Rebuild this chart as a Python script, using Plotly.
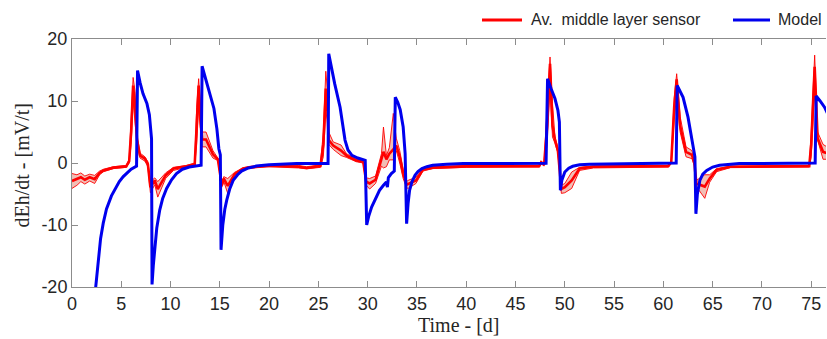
import plotly.graph_objects as go

# ---- Averaged middle-layer sensor (mean + band) ----
t_red = [0.0, 0.5, 0.9, 1.3, 1.8, 2.3, 2.8, 3.2, 4.2, 5.5, 5.8, 6.0, 6.2, 6.4, 6.6, 6.9, 7.4, 7.7,
         7.95, 8.4, 8.7, 9.5, 10.3, 11.6, 12.45, 12.65, 12.85, 13.0, 13.2, 13.6, 14.3, 14.8, 15.2,
         15.4, 15.8, 16.5, 17.35, 18.0, 20.0, 23.0, 23.8, 25.2, 25.5, 25.75, 25.9, 26.05, 26.5,
         27.3, 27.85, 28.85, 29.55, 29.85, 30.2, 30.8, 31.4, 31.6, 31.9, 32.2, 32.6, 32.9, 33.25,
         33.6, 33.95, 34.1, 34.9, 35.6, 36.6, 40.0, 47.4, 47.6, 47.9, 48.2, 48.5, 48.75, 49.0,
         49.3, 49.65, 50.0, 50.7, 51.5, 52.9, 60.5, 60.8, 61.1, 61.35, 61.7, 62.3, 62.9, 63.15,
         63.35, 64.2, 64.7, 65.4, 66.8, 74.8, 75.0, 75.35, 75.65, 76.2, 76.6]
red_mean = [-2.9, -2.6, -2.3, -2.7, -2.3, -2.6, -1.6, -1.2, -0.75, -0.55, 0.3, 5.0, 12.5, 9.0, 3.7,
            1.2, 0.7, -0.2, -3.9, -2.8, -4.2, -2.0, -0.9, -0.53, -0.2, 6.0, 12.5, 8.0, 3.8, 3.8,
            1.4, 0.6, -3.6, -2.5, -3.7, -1.8, -0.9, -0.7, -0.45, -0.6, -0.8, -0.5, 3.0, 12.0, 9.0,
            3.7, 2.8, 2.0, 1.2, 0.4, 0.2, -3.0, -3.3, -2.7, 0.5, 1.8, 0.6, 1.5, 2.2, 2.8, 1.0,
            -1.7, -3.5, -3.4, -2.8, -1.1, -0.75, -0.55, -0.5, 0.1, -0.3, 6.0, 16.0, 6.0, 3.7,
            2.0, -4.2, -3.9, -2.8, -0.9, -0.6, -0.5, 0.16, 9.0, 13.5, 6.0, 1.8, 1.3, -0.1,
            -3.3, -3.8, -2.5, -1.1, -0.6, -0.5, 3.0, 15.5, 4.0, 1.8, 1.6]
red_low = [-4.1, -3.6, -3.0, -3.4, -2.9, -3.3, -1.9, -1.4, -0.9, -0.7, 0.0, 3.0, 10.0, 6.5, 3.0,
           0.8, 0.3, -0.6, -4.8, -3.5, -5.5, -2.5, -1.2, -0.7, -0.4, 3.0, 9.0, 5.8, 2.6, 2.6,
           0.8, 0.4, -3.9, -3.0, -4.9, -2.3, -1.1, -0.85, -0.6, -0.8, -0.95, -0.7, 1.0, 8.2, 7.0,
           3.0, 2.2, 1.2, 0.9, 0.2, 0.0, -3.6, -4.2, -3.3, -0.5, -0.8, -0.6, 0.5, 0.5, 2.0, 0.0,
           -2.5, -4.0, -4.1, -3.3, -1.3, -0.9, -0.7, -0.65, -0.1, -0.5, 3.0, 12.0, 4.2, 3.2,
           1.6, -4.9, -4.8, -4.1, -1.2, -0.8, -0.65, 0.0, 7.0, 11.0, 5.0, 1.0, 0.7, -0.4,
           -3.8, -5.7, -3.1, -1.4, -0.75, -0.65, 1.0, 11.7, 3.7, 0.6, 0.6]
red_high = [-1.7, -1.9, -1.6, -2.1, -1.8, -2.0, -1.3, -1.0, -0.6, -0.4, 0.6, 7.0, 13.8, 11.5, 4.5,
            1.6, 1.0, 0.2, -3.0, -2.4, -3.0, -1.6, -0.7, -0.4, 0.0, 9.0, 13.6, 10.0, 5.0, 5.0,
            2.0, 0.8, -3.3, -2.2, -2.5, -1.5, -0.8, -0.55, -0.3, -0.4, -0.6, -0.3, 5.0, 14.8, 12.0,
            5.0, 3.4, 2.9, 1.5, 0.6, 0.4, -2.4, -2.5, -2.1, 1.5, 5.8, 1.2, 2.5, 8.0, 4.0, 2.0,
            -1.0, -3.0, -2.8, -2.3, -0.9, -0.6, -0.4, -0.35, 0.3, -0.1, 9.0, 17.1, 9.6, 4.3,
            2.5, -3.6, -3.3, -1.45, -0.7, -0.45, -0.35, 0.3, 10.5, 14.4, 7.5, 2.6, 2.0, 0.2,
            -2.8, -1.9, -1.9, -0.9, -0.5, -0.35, 5.0, 17.4, 5.0, 3.0, 2.6]

# ---- Model ----
t_model = [1.9, 2.4, 2.67, 2.9, 3.17, 3.5, 4.0, 4.34, 4.8, 5.2, 5.5, 6.0, 6.55,
           6.65, 6.9, 7.2, 7.6, 7.85, 8.07,
           8.12, 8.25, 8.4, 8.6, 8.9, 9.2, 9.6, 10.1, 10.6, 11.2, 11.9, 12.5, 13.1,
           13.2, 13.5, 13.8, 14.1, 14.4, 14.7, 14.9, 15.05,
           15.12, 15.3, 15.5, 15.7, 16.0, 16.35, 16.8, 17.2, 17.9, 18.7, 20.0, 22.8, 25.98,
           26.05, 26.35, 26.65, 27.2, 27.5, 27.7, 28.0, 28.4, 29.0, 29.75,
           29.9, 30.1, 30.4, 30.8, 31.2, 31.6, 31.9, 32.0, 32.1, 32.4, 32.7,
           32.8, 33.05, 33.3, 33.6, 33.8,
           33.95, 34.1, 34.25, 34.5, 34.8, 35.1, 35.5, 36.0, 36.6, 38.0, 39.7, 48.1,
           48.25, 48.6, 49.0, 49.3, 49.45,
           49.55, 49.7, 50.0, 50.4, 50.8, 51.5, 52.5, 61.3,
           61.4, 61.7, 62.0, 62.5, 62.9, 63.2,
           63.3, 63.45, 63.7, 64.0, 64.4, 65.0, 65.7, 67.7, 75.4,
           75.5, 75.9, 76.35, 76.8]
model = [-28.0, -20.0, -15.2, -12.2, -9.7, -7.4, -5.3, -4.4, -3.0, -2.2, -1.7, -1.0, -0.5,
         14.9, 13.0, 11.2, 9.6, 7.8, 3.9,
         -19.6, -16.5, -13.5, -10.5, -7.6, -5.7, -4.1, -2.7, -1.7, -1.0, -0.64, -0.45, -0.37,
         15.6, 13.9, 12.3, 10.6, 8.8, 5.5, 2.3, 1.3,
         -14.0, -10.0, -7.5, -6.0, -4.2, -2.8, -1.9, -1.3, -0.8, -0.5, -0.3, -0.1, -0.1,
         17.6, 15.0, 12.8, 9.0, 6.0, 3.7, 2.1, 1.24, 0.8, 0.44,
         -10.0, -8.6, -7.1, -5.6, -4.4, -3.6, -3.06, -3.9, -2.35, -1.7, -1.3,
         10.6, 9.8, 8.6, 5.8, 1.5,
         -9.8, -6.5, -4.4, -3.0, -2.0, -1.4, -0.9, -0.6, -0.37, -0.2, -0.1, -0.05,
         13.6, 12.0, 10.4, 8.5, 6.6,
         -4.4, -2.8, -1.45, -0.85, -0.53, -0.3, -0.2, 0.0,
         12.5, 11.5, 10.6, 7.4, 3.7, 1.0,
         -8.2, -5.0, -2.8, -1.8, -1.2, -0.65, -0.37, -0.1, 0.0,
         10.8, 10.0, 9.0, 7.5]

x_ticks = [0, 5, 10, 15, 20, 25, 30, 35, 40, 45, 50, 55, 60, 65, 70, 75]
y_ticks = [-20, -10, 0, 10, 20]
legend_names = ["Av.\u00a0 middle layer sensor", "Model"]

RED = "#ff0000"
BLUE = "#0000ee"

fig = go.Figure()
fig.add_trace(go.Scatter(x=t_red, y=red_low, mode="lines", line=dict(color=RED, width=0.9),
                         showlegend=False, hoverinfo="skip"))
fig.add_trace(go.Scatter(x=t_red, y=red_high, mode="lines", line=dict(color=RED, width=0.9),
                         fill="tonexty", fillcolor="rgba(225,110,90,0.45)",
                         showlegend=False, hoverinfo="skip"))
fig.add_trace(go.Scatter(x=t_red, y=red_mean, mode="lines", line=dict(color=RED, width=2.6),
                         name=legend_names[0], showlegend=False))
fig.add_trace(go.Scatter(x=t_model, y=model, mode="lines", line=dict(color=BLUE, width=3),
                         name=legend_names[1], showlegend=False))

axis_col = "#8c8c8c"
tick_font = dict(family="Liberation Sans, Arial, sans-serif", size=18, color="#262626")
leg_font = dict(family="Liberation Sans, Arial, sans-serif", size=16, color="#262626")

# legend drawn manually (paper coordinates; plot spans px 72..826 x 39..287)
def px_x(p):
    return (p - 72) / 754.0

def px_y(p):
    return (287 - p) / 248.0

ly = px_y(20)
shapes = [
    dict(type="line", xref="paper", yref="paper", x0=px_x(482), x1=px_x(522), y0=ly, y1=ly,
         line=dict(color=RED, width=3)),
    dict(type="line", xref="paper", yref="paper", x0=px_x(733), x1=px_x(770), y0=ly, y1=ly,
         line=dict(color=BLUE, width=3)),
]

annotations = [
    dict(text=legend_names[0], xref="paper", yref="paper", x=px_x(529), y=ly,
         xanchor="left", yanchor="middle", showarrow=False, font=leg_font),
    dict(text=legend_names[1], xref="paper", yref="paper", x=px_x(776), y=ly,
         xanchor="left", yanchor="middle", showarrow=False, font=leg_font),
    dict(text="Time - [d]", xref="paper", yref="paper", x=0.513, y=0, yshift=-38,
         xanchor="center", yanchor="middle", showarrow=False,
         font=dict(family="Liberation Serif, serif", size=20, color="#262626")),
    dict(text="dEh/dt - [mV/t]", xref="paper", yref="paper", x=0, xshift=-50, y=0.49,
         xanchor="center", yanchor="middle", textangle=-90, showarrow=False,
         font=dict(family="Liberation Serif, serif", size=20, color="#262626")),
]

fig.update_layout(
    width=827, height=339,
    margin=dict(l=72, r=1, t=39, b=52),
    paper_bgcolor="white", plot_bgcolor="white",
    showlegend=False,
    xaxis=dict(range=[0, 76.5], tickvals=x_ticks, ticktext=[str(v) for v in x_ticks],
               showgrid=False, zeroline=False, showline=True, linecolor=axis_col, linewidth=1,
               mirror="ticks", ticks="inside", ticklen=6, tickcolor=axis_col,
               tickfont=tick_font),
    yaxis=dict(range=[-20, 20], tickvals=y_ticks, ticktext=[str(v) for v in y_ticks],
               showgrid=False, zeroline=False, showline=True, linecolor=axis_col, linewidth=1,
               ticks="inside", ticklen=6, tickcolor=axis_col, tickfont=tick_font),
    shapes=shapes,
    annotations=annotations,
)

fig.write_html("out.html")
